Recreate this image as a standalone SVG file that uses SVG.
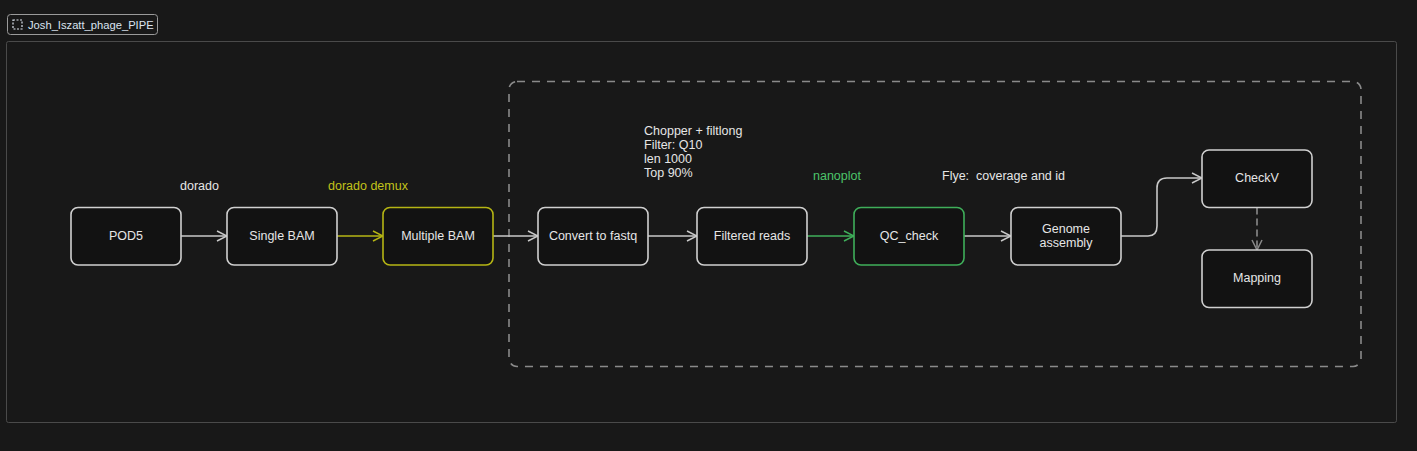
<svg xmlns="http://www.w3.org/2000/svg" width="1417" height="451" viewBox="0 0 1417 451">
<style>
text{font-family:"Liberation Sans",Arial,sans-serif;font-size:12.5px;fill:#e6e6e6}
.node{fill:#121212;stroke:#d0d0d0;stroke-width:1.6}
.lbl{text-anchor:middle;dominant-baseline:central}
.conn{fill:none;stroke-width:1.6;stroke-linecap:round;stroke-linejoin:round}
</style>
<defs>
<marker id="aw" viewBox="0 0 12 12" refX="11" refY="6" markerWidth="12" markerHeight="12" markerUnits="userSpaceOnUse" orient="auto"><path d="M1,1 L11,6 L1,11" fill="none" stroke="#c8c8c8" stroke-width="1.5"/></marker>
<marker id="ay" viewBox="0 0 12 12" refX="11" refY="6" markerWidth="12" markerHeight="12" markerUnits="userSpaceOnUse" orient="auto"><path d="M1,1 L11,6 L1,11" fill="none" stroke="#b5b514" stroke-width="1.5"/></marker>
<marker id="ag" viewBox="0 0 12 12" refX="11" refY="6" markerWidth="12" markerHeight="12" markerUnits="userSpaceOnUse" orient="auto"><path d="M1,1 L11,6 L1,11" fill="none" stroke="#3fae5a" stroke-width="1.5"/></marker>
<marker id="ad" viewBox="0 0 12 12" refX="11" refY="6" markerWidth="12" markerHeight="12" markerUnits="userSpaceOnUse" orient="auto"><path d="M1,1 L11,6 L1,11" fill="none" stroke="#8a8a8a" stroke-width="1.5"/></marker>
</defs>
<rect width="1417" height="451" fill="#181818"/>
<g id="frame">
<rect x="6.5" y="41.5" width="1390" height="381" rx="2" fill="none" stroke="#4a4a4a" stroke-width="1"/>
<rect x="7.5" y="14.5" width="150" height="20" rx="3" fill="#181818" stroke="#9a9a9a" stroke-width="1"/>
<rect x="13" y="20" width="9" height="9" fill="none" stroke="#dfe6f0" stroke-width="1.2" stroke-dasharray="2 1.5"/>
<text x="28" y="28.5" style="font-size:11.2px;fill:#dbe4f0">Josh_Iszatt_phage_PIPE</text>
</g>
<g id="group-box">
<rect x="509" y="81.5" width="852" height="285" rx="8" fill="none" stroke="#8a8a8a" stroke-width="1.6" stroke-dasharray="8 7"/>
</g>
<g id="connectors">
<path class="conn" d="M181,236 L227,236" stroke="#c8c8c8" marker-end="url(#aw)"/>
<path class="conn" d="M337,236 L383,236" stroke="#b5b514" marker-end="url(#ay)"/>
<path class="conn" d="M493,236 L538,236" stroke="#c8c8c8" marker-end="url(#aw)"/>
<path class="conn" d="M648,236 L697,236" stroke="#c8c8c8" marker-end="url(#aw)"/>
<path class="conn" d="M807,236 L854,236" stroke="#3fae5a" marker-end="url(#ag)"/>
<path class="conn" d="M964,236 L1011,236" stroke="#c8c8c8" marker-end="url(#aw)"/>
<path class="conn" d="M1121,236 L1148,236 Q1157,236 1157,226 L1157,188 Q1157,178 1167,178 L1202,178" stroke="#c8c8c8" marker-end="url(#aw)"/>
<path class="conn" d="M1257,208 L1257,250" stroke="#8a8a8a" stroke-dasharray="6 5" marker-end="url(#ad)"/>
</g>
<g id="labels">
<text x="180" y="190">dorado</text>
<text x="328" y="190" style="fill:#c2c21a">dorado demux</text>
<text x="644" y="135">Chopper + filtlong</text>
<text x="644" y="149">Filter: Q10</text>
<text x="644" y="163">len 1000</text>
<text x="644" y="177">Top 90%</text>
<text x="813" y="180" style="fill:#4cc46a">nanoplot</text>
<text x="942" y="180">Flye:&#160; coverage and id</text>
</g>
<g id="pod5"><rect class="node" x="71" y="207.5" width="110" height="57.5" rx="7"/><text class="lbl" x="126" y="236">POD5</text></g>
<g id="single-bam"><rect class="node" x="227" y="207.5" width="110" height="57.5" rx="7"/><text class="lbl" x="282" y="236">Single BAM</text></g>
<g id="multiple-bam"><rect class="node" x="383" y="207.5" width="110" height="57.5" rx="7" style="stroke:#b5b514"/><text class="lbl" x="438" y="236">Multiple BAM</text></g>
<g id="convert"><rect class="node" x="538" y="207.5" width="110" height="57.5" rx="7"/><text class="lbl" x="593" y="236">Convert to fastq</text></g>
<g id="filtered"><rect class="node" x="697" y="207.5" width="110" height="57.5" rx="7"/><text class="lbl" x="752" y="236">Filtered reads</text></g>
<g id="qc"><rect class="node" x="854" y="207.5" width="110" height="57.5" rx="7" style="stroke:#3fae5a"/><text class="lbl" x="909" y="236">QC_check</text></g>
<g id="genome"><rect class="node" x="1011" y="207.5" width="110" height="57.5" rx="7"/><text class="lbl" x="1066" y="229">Genome</text><text class="lbl" x="1066" y="243">assembly</text></g>
<g id="checkv"><rect class="node" x="1202" y="150" width="110" height="57.5" rx="7"/><text class="lbl" x="1257" y="178">CheckV</text></g>
<g id="mapping"><rect class="node" x="1202" y="250" width="110" height="57.5" rx="7"/><text class="lbl" x="1257" y="278">Mapping</text></g>
</svg>
